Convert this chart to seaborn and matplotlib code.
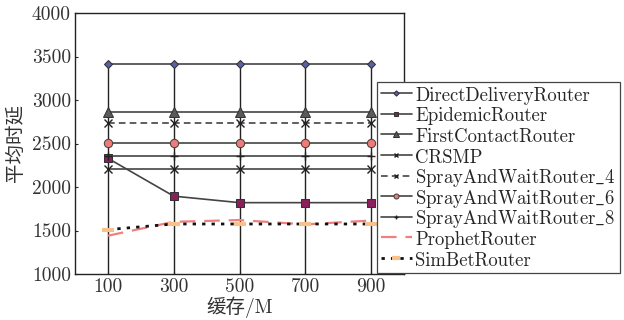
import numpy as np
import pandas as pd
import matplotlib
matplotlib.use('Agg')
import matplotlib.pyplot as plt
from matplotlib.transforms import Bbox
import seaborn as sns

# buffer sizes (M)
buffer = [100, 300, 500, 700, 900]

direct_delivery = [3410, 3410, 3410, 3410, 3410]
epidemic = [2330, 1895, 1820, 1820, 1820]
first_contact = [2860, 2860, 2860, 2860, 2860]
crsmp = [2210, 2210, 2210, 2210, 2210]
saw_4 = [2735, 2735, 2735, 2735, 2735]
saw_6 = [2510, 2510, 2510, 2510, 2510]
saw_8 = [2360, 2360, 2360, 2360, 2360]
prophet = [1440, 1600, 1620, 1570, 1615]
simbet = [1510, 1575, 1575, 1575, 1575]

sns.set_style('ticks')
plt.rcParams['font.family'] = ['cmr10', 'DejaVu Serif', 'Noto Sans CJK SC']
plt.rcParams['mathtext.fontset'] = 'cm'
plt.rcParams['axes.unicode_minus'] = False

fig = plt.figure(figsize=(6.24, 3.2), dpi=100)
ax = fig.add_axes([75 / 624, 1 - 274 / 320, (404 - 75) / 624, (274 - 13) / 320])

ylo, yhi = 1000, 4000
# vertical lines at each buffer size
ax.vlines(buffer, ylo, max(direct_delivery), colors='#222222', lw=1.0, zorder=1)

line_c = '#444444'
series = [
    ('DirectDeliveryRouter', direct_delivery, dict(color=line_c, marker='D', ms=4.5, mfc='#5b60a0', mec='#333333', ls='-')),
    ('EpidemicRouter', epidemic, dict(color=line_c, marker='s', ms=6, mfc='#8a1f5c', mec='#333333', ls='-')),
    ('FirstContactRouter', first_contact, dict(color=line_c, marker='^', ms=6.5, mfc='#5a5a5a', mec='#333333', ls='-')),
    ('CRSMP', crsmp, dict(color=line_c, marker='x', ms=6, mfc='none', mec='#222222', mew=1.0, ls='-')),
    (r'SprayAndWaitRouter$\_$4', saw_4, dict(color=line_c, marker='x', ms=6, mec='#222222', mew=1.0, ls=(0, (4, 2.5)))),
    (r'SprayAndWaitRouter$\_$6', saw_6, dict(color=line_c, marker='o', ms=6, mfc='#f07a78', mec='#444444', ls='-')),
    (r'SprayAndWaitRouter$\_$8', saw_8, dict(color=line_c, marker='+', ms=6, mec='#222222', mew=1.0, ls='-')),
    ('ProphetRouter', prophet, dict(color='#f08080', marker=None, ls=(0, (7, 4)), lw=1.6)),
    ('SimBetRouter', simbet, dict(color='#111111', marker='_', ms=9, mec='#f8c08a', mew=3, ls=(0, (1.2, 2.2)), lw=2.0)),
]

for name, vals, kw in series:
    lw = kw.pop('lw', 1.2)
    sns.lineplot(x=buffer, y=vals, ax=ax, label=name, lw=lw, zorder=3, **kw)

ax.set_xlim(0, 1000)
ax.set_ylim(ylo, yhi)
ax.set_xticks(buffer)
ax.set_yticks(np.arange(1000, 4001, 500))
ax.tick_params(direction='in', length=2, labelsize=14, labelcolor='#333333', width=0.8, pad=3)
for s in ax.spines.values():
    s.set_linewidth(1.0)
    s.set_color('#222222')

ax.set_xlabel('缓存/M', fontsize=14, color='#333333', labelpad=0)
ax.set_ylabel('平均时延', fontsize=14, color='#333333', labelpad=4,
              family=['Noto Sans CJK SC'])

leg = ax.legend(loc='upper left', bbox_to_anchor=(377 / 624, 1 - 82 / 320),
                bbox_transform=fig.transFigure, fontsize=13.5, frameon=True,
                fancybox=False, edgecolor='#444444', framealpha=1,
                handlelength=1.65, handleheight=1.05, handletextpad=0.2,
                labelspacing=0.08, borderpad=0.2, borderaxespad=0,
                markerscale=0.6)
leg.get_frame().set_linewidth(0.9)

# the mathtext underscore makes some rows taller; give every row the same box
rows = [r for col in leg._legend_handle_box.get_children() for r in col.get_children()]
areas = [r.get_children()[1] for r in rows]
ref_area = areas[0]
for ta in areas:
    if '_' in ta.get_text():
        def fixed_bbox(renderer, orig=ta.get_bbox, ref=ref_area.get_bbox):
            b = orig(renderer)
            r = ref(renderer)
            return Bbox.from_bounds(b.x0, r.y0, b.width, r.height)
        ta.get_bbox = fixed_bbox

fig.savefig('out.png', dpi=100)
